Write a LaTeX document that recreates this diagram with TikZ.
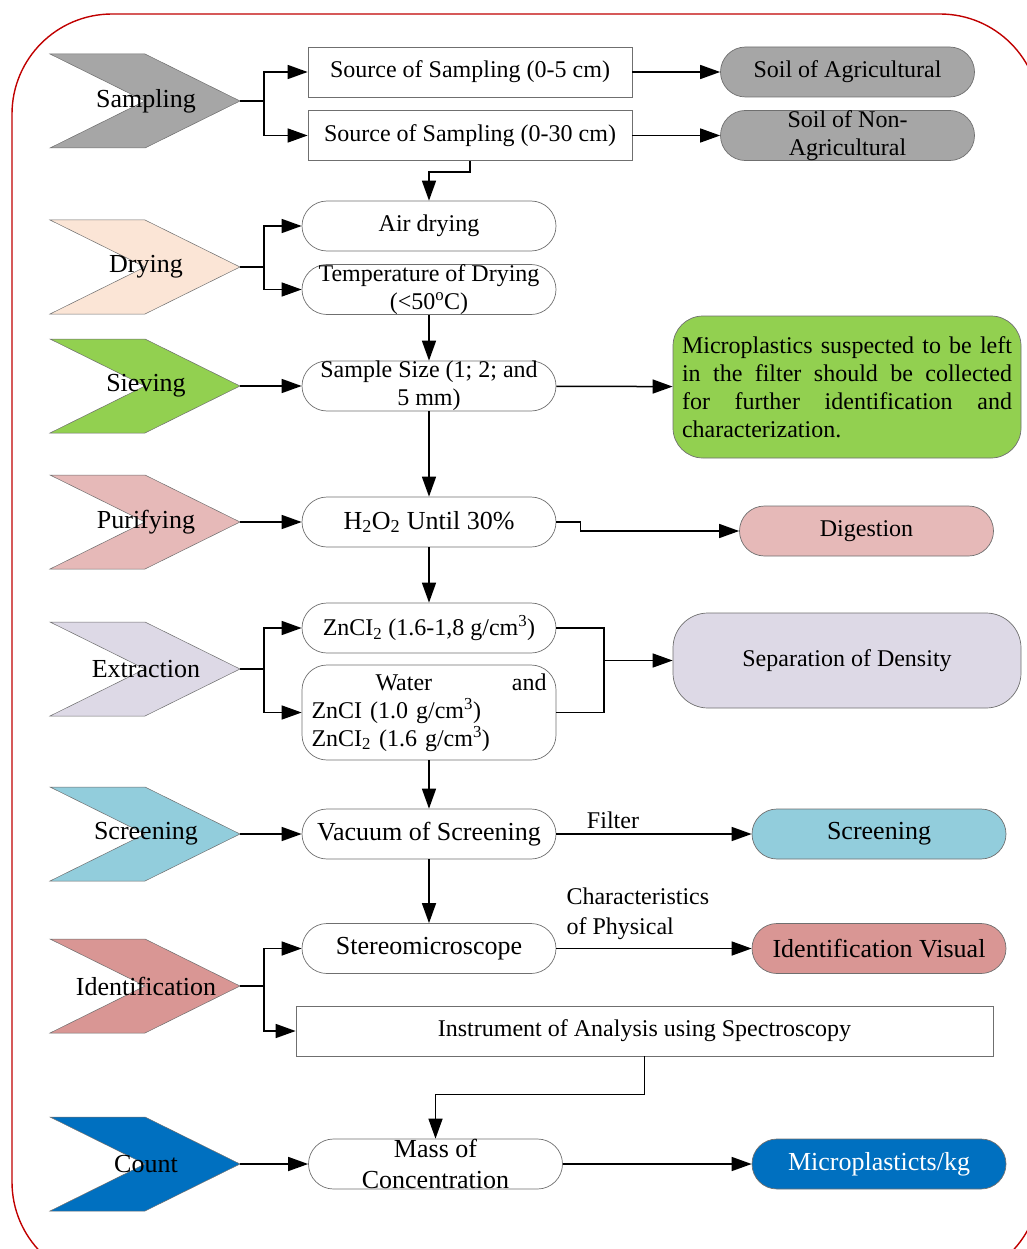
\documentclass[tikz,border=0pt]{standalone}
\usepackage{fontspec}
\setmainfont{Liberation Serif}
\usetikzlibrary{arrows.meta}

\definecolor{sampgray}{HTML}{A6A6A6}
\definecolor{drypeach}{HTML}{FBE5D6}
\definecolor{sievgreen}{HTML}{92D050}
\definecolor{purpink}{HTML}{E6B9B8}
\definecolor{extrlav}{HTML}{DDD9E6}
\definecolor{scrblue}{HTML}{92CDDC}
\definecolor{identrose}{HTML}{D99694}
\definecolor{countblue}{HTML}{0070C0}
\definecolor{borderred}{HTML}{C00000}
\definecolor{edgegray}{HTML}{6F6F6F}

\begin{document}
\begin{tikzpicture}[x=1pt,y=-1pt,
  box/.style={draw=edgegray, line width=0.7pt, minimum width=254pt, minimum height=50pt,
    inner sep=0pt, align=center, font=\fontsize{24}{28}\selectfont},
  pill/.style={box, rounded corners=25pt},
  big/.style={font=\fontsize{26}{31}\selectfont},
  chev/.style={draw=edgegray, line width=0.5pt},
  arr/.style={line width=1.5pt, -{Triangle[length=20pt,width=14pt]}},
  link/.style={line width=1.5pt}]
\useasboundingbox (0,0) rectangle (1027,1249);
\draw[borderred, line width=1.4pt, rounded corners=100pt] (12,14) rectangle (1040,1282);

% stage chevrons
\foreach \nm/\yy/\col/\lab in {samp/101/sampgray/Sampling, dry/267/drypeach/Drying,
    siev/386/sievgreen/Sieving, puri/522/purpink/Purifying, extr/669/extrlav/Extraction,
    scrn/834/scrblue/Screening, ident/986/identrose/Identification, count/1164/countblue/Count} {
  \draw[chev, fill=\col] (50,\yy-47) -- (145,\yy-47) -- (240,\yy) -- (145,\yy+47)
    -- (50,\yy+47) -- (145,\yy) -- cycle;
  \node[big] (\nm lab) at (146,\yy) {\lab};
  \coordinate (\nm) at (240,\yy);
}

% middle column
\node[box, minimum width=324pt] (src5) at (470,72) {Source of Sampling (0-5 cm)};
\node[box, minimum width=324pt] (src30) at (470,135.5) {Source of Sampling (0-30 cm)};
\node[pill] (air) at (429,226) {Air drying};
\node[pill] (temp) at (429,289.5) {Temperature of Drying\\(<50\textsuperscript{o}C)};
\node[pill] (size) at (429,386) {Sample Size (1; 2; and\\5 mm)};
\node[pill, big] (h2o) at (429,522) {H\textsubscript{2}O\textsubscript{2} Until 30\%};
\node[pill] (zn) at (429,628) {ZnCI\textsubscript{2} (1.6-1,8 g/cm\textsuperscript{3})};
\node[box, rounded corners=25pt, minimum height=95pt, text width=235pt, align=left] (water) at (429,712.5)
  {\hspace*{64pt}Water\hfill and\\ZnCI (1.0 g/cm\textsuperscript{3})\\ZnCI\textsubscript{2} (1.6 g/cm\textsuperscript{3})};
\node[pill, big] (vac) at (429,834) {Vacuum of Screening};
\node[pill, big] (stereo) at (429,948.5) {Stereomicroscope};
\node[box, minimum width=697pt] (instr) at (644.5,1031) {Instrument of Analysis using Spectroscopy};
\node[pill, big] (mass) at (435.5,1164) {Mass of\\Concentration};

% right column
\node[pill, fill=sampgray] (agri) at (847.5,72) {Soil of Agricultural};
\node[pill, fill=sampgray] (nonagri) at (847.5,135.5) {Soil of Non-\\Agricultural};
\node[box, fill=sievgreen, rounded corners=30pt, minimum width=348pt, minimum height=142pt,
  text width=330pt, align=justify] (note) at (847,387)
  {Microplastics suspected to be left\linebreak in the filter should be collected\linebreak
   for further identification and\linebreak characterization.};
\node[pill, fill=purpink] (dig) at (866.5,531) {Digestion};
\node[box, fill=extrlav, rounded corners=35pt, minimum width=348pt, minimum height=95pt] (sep) at (847,660.5)
  {Separation of Density};
\node[pill, big, fill=scrblue] (scr) at (879,834) {Screening};
\node[pill, big, fill=identrose] (idvis) at (879,948.5) {Identification Visual};
\node[pill, big, fill=countblue, text=white] (micro) at (879,1164) {Microplasticts/kg};
\node[anchor=west, align=left, font=\fontsize{24}{30}\selectfont] (chars) at (563,914)
  {Characteristics\\of Physical};
\coordinate (merge) at (604,660.5);

% connectors
\draw[arr] (samp) -- ++(24,0) |- (src5);
\draw[arr] (samp) -- ++(24,0) |- (src30);
\draw[arr] (src5) -- (agri);
\draw[arr] (src30) -- (nonagri);
\draw[arr] (src30.south) -- ++(0,11) -| (air);
\draw[arr] (dry) -- ++(24,0) |- (air);
\draw[arr] (dry) -- ++(24,0) |- (temp);
\draw[arr] (temp) -- (size);
\draw[arr] (siev) -- (size);
\draw[arr] (size) -- (note);
\draw[arr] (size) -- (h2o);
\draw[arr] (puri) -- (h2o);
\draw[arr] (h2o.east) -- ++(24,0) |- (dig);
\draw[arr] (h2o) -- (zn);
\draw[arr] (extr) -- ++(24,0) |- (zn);
\draw[arr] (extr) -- ++(24,0) |- (water);
\draw[link] (zn.east) -| (merge) |- (water.east);
\draw[arr] (merge) -- (sep);
\draw[arr] (water) -- (vac);
\draw[arr] (scrn) -- (vac);
\draw[arr] (vac) -- node[pos=0.29, above=1pt, font=\fontsize{24}{28}\selectfont] (filt) {Filter} (scr);
\draw[arr] (vac) -- (stereo);
\draw[arr] (ident) -- ++(24,0) |- (stereo);
\draw[arr] (ident) -- ++(24,0) |- (instr);
\draw[arr] (stereo) -- (idvis);
\draw[arr] (instr.south) -- ++(0,38) -| (mass);
\draw[arr] (count) -- (mass);
\draw[arr] (mass) -- (micro);
\end{tikzpicture}
\end{document}
